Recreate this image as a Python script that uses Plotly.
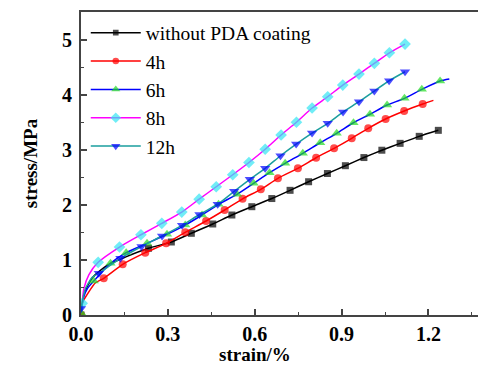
import plotly.graph_objects as go

# ---- data (strain in %, stress in MPa) ----
# points that carry a marker symbol
strain_none = [0.0, 0.233, 0.312, 0.381, 0.455, 0.521, 0.590, 0.659, 0.722, 0.786, 0.851, 0.913, 0.977, 1.039, 1.102, 1.168, 1.234]
stress_none = [0.0, 1.211, 1.325, 1.483, 1.652, 1.815, 1.966, 2.114, 2.263, 2.419, 2.568, 2.710, 2.858, 2.991, 3.116, 3.243, 3.352]
# extra curve points without symbols
strain_none_line = [0.010, 0.040, 0.090, 0.153]
stress_none_line = [0.38, 0.68, 0.90, 1.05]

strain_4h = [0.0, 0.0786, 0.144, 0.222, 0.294, 0.360, 0.432, 0.496, 0.558, 0.621, 0.680, 0.749, 0.812, 0.874, 0.935, 0.992, 1.052, 1.116, 1.180]
stress_4h = [0.0, 0.666, 0.920, 1.131, 1.301, 1.501, 1.706, 1.906, 2.109, 2.281, 2.481, 2.662, 2.855, 3.025, 3.207, 3.388, 3.557, 3.702, 3.829]
strain_4h_line = [0.004, 0.027, 0.050, 1.217]
stress_4h_line = [0.21, 0.42, 0.586, 3.896]

strain_6h = [0.0, 0.0441, 0.1017, 0.156, 0.228, 0.297, 0.360, 0.418, 0.475, 0.539, 0.596, 0.651, 0.705, 0.766, 0.826, 0.883, 0.941, 0.998, 1.057, 1.117, 1.177, 1.240]
stress_6h = [0.04, 0.617, 0.938, 1.131, 1.301, 1.465, 1.633, 1.815, 2.009, 2.191, 2.390, 2.583, 2.753, 2.935, 3.127, 3.298, 3.490, 3.644, 3.811, 3.933, 4.096, 4.247]
strain_6h_line = [0.0097, 0.022, 1.272]
stress_6h_line = [0.33, 0.48, 4.283]

strain_8h = [0.004, 0.0593, 0.133, 0.207, 0.279, 0.348, 0.408, 0.467, 0.524, 0.580, 0.636, 0.691, 0.744, 0.798, 0.852, 0.904, 0.960, 1.013, 1.065, 1.119]
stress_8h = [0.212, 0.956, 1.234, 1.457, 1.664, 1.869, 2.102, 2.328, 2.546, 2.768, 3.009, 3.267, 3.499, 3.757, 3.962, 4.174, 4.374, 4.568, 4.760, 4.918]
strain_8h_line = [0.010, 0.027]
stress_8h_line = [0.48, 0.73]

strain_12h = [0.0, 0.0614, 0.136, 0.209, 0.280, 0.349, 0.409, 0.472, 0.529, 0.583, 0.636, 0.689, 0.743, 0.798, 0.852, 0.905, 0.960, 1.013, 1.064, 1.119]
stress_12h = [0.12, 0.757, 1.029, 1.243, 1.434, 1.628, 1.824, 2.011, 2.245, 2.463, 2.662, 2.891, 3.103, 3.303, 3.479, 3.684, 3.871, 4.065, 4.252, 4.416]
strain_12h_line = [0.0155, 0.0386]
stress_12h_line = [0.48, 0.684]

series_names = ["without PDA coating", "4h", "6h", "8h", "12h"]
x_tick_vals = [0.0, 0.3, 0.6, 0.9, 1.2]
x_tick_text = ["0.0", "0.3", "0.6", "0.9", "1.2"]
y_tick_vals = [0, 1, 2, 3, 4, 5]
x_title = "strain/%"
y_title = "stress/MPa"

# ---- styling ----
styles = [
    dict(line="#000000", marker="#000000", symbol="square", size=7),
    dict(line="#ff0000", marker="#ff0000", symbol="circle", size=8),
    dict(line="#0000ff", marker="#22dd22", symbol="triangle-up", size=9),
    dict(line="#ff00ff", marker="#33e6f2", symbol="diamond", size=9),
    dict(line="#1a9e9e", marker="#0000ff", symbol="triangle-down", size=9),
]
data = [
    (strain_none, stress_none, strain_none_line, stress_none_line),
    (strain_4h, stress_4h, strain_4h_line, stress_4h_line),
    (strain_6h, stress_6h, strain_6h_line, stress_6h_line),
    (strain_8h, stress_8h, strain_8h_line, stress_8h_line),
    (strain_12h, stress_12h, strain_12h_line, stress_12h_line),
]

fig = go.Figure()
for name, st, (xm, ym, xl, yl) in zip(series_names, styles, data):
    pts = [(x, y, True) for x, y in zip(xm, ym)] + [(x, y, False) for x, y in zip(xl, yl)]
    pts.sort(key=lambda p: p[0])
    fig.add_trace(go.Scatter(
        x=[p[0] for p in pts], y=[p[1] for p in pts],
        mode="lines+markers", name=name,
        line=dict(color=st["line"], width=1.5, shape="spline", smoothing=0.6),
        marker=dict(color=st["marker"], symbol=st["symbol"],
                    size=[st["size"] if p[2] else 0 for p in pts],
                    line=dict(width=0)),
    ))

serif = "Liberation Serif, Times New Roman, serif"
fig.update_layout(
    width=478, height=367,
    margin=dict(l=80.5, r=0, t=12, b=52),
    paper_bgcolor="white", plot_bgcolor="white",
    font=dict(family=serif, color="#000000"),
    showlegend=True,
    legend=dict(x=0.012, y=0.995, xanchor="left", yanchor="top",
                bgcolor="rgba(0,0,0,0)", font=dict(family=serif, size=19.5),
                itemwidth=50, tracegroupgap=0),
    xaxis=dict(range=[0, 1.371], tickvals=x_tick_vals, ticktext=x_tick_text,
               ticks="inside", ticklen=6, tickwidth=1.5, tickcolor="#444",
               minor=dict(ticks="inside", ticklen=3, dtick=0.15, tickcolor="#444", tickwidth=1.2),
               showline=True, linecolor="#444", linewidth=2, mirror=True,
               showgrid=False, zeroline=False, ticklabelstandoff=0,
               tickfont=dict(family=serif, size=20, weight="bold")),
    yaxis=dict(range=[0, 5.5], tickvals=y_tick_vals,
               ticks="inside", ticklen=6, tickwidth=1.5, tickcolor="#444",
               minor=dict(ticks="inside", ticklen=3, dtick=0.5, tickcolor="#444", tickwidth=1.2),
               showline=True, linecolor="#444", linewidth=2, mirror=False,
               showgrid=False, zeroline=False, ticklabelstandoff=3,
               tickfont=dict(family=serif, size=20, weight="bold"),
               title=dict(text=y_title, font=dict(family=serif, size=19, weight="bold"), standoff=19)),
    annotations=[dict(text=x_title, xref="paper", yref="paper", x=0.439, y=-0.132,
                      xanchor="center", yanchor="middle", showarrow=False,
                      font=dict(family=serif, size=19, weight="bold"))],
)
fig.write_html("out.html", config={"displayModeBar": False},
               post_script="document.body.style.margin='0px';")
